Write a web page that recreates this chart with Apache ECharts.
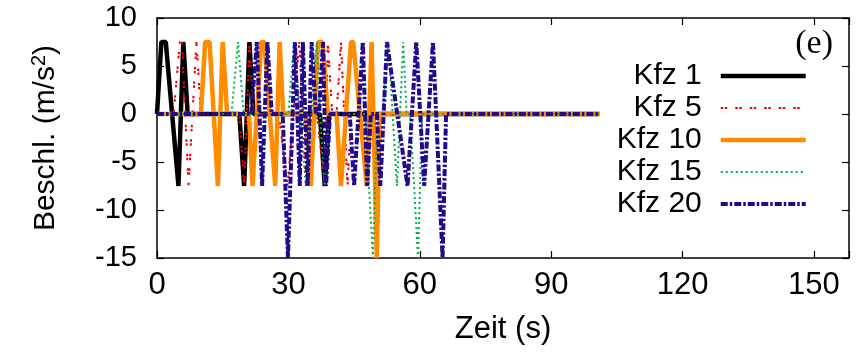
<!DOCTYPE html>
<html>
<head>
<meta charset="utf-8">
<script src="https://cdn.jsdelivr.net/npm/echarts@6/dist/echarts.min.js"></script>
<style>html,body{margin:0;padding:0;background:#fff}#c{width:863px;height:356px}</style>
</head>
<body>
<div id="c"></div>
<script>
// ---- data (time in s, acceleration in m/s^2) ----
const seriesNames = ['Kfz 1', 'Kfz 5', 'Kfz 10', 'Kfz 15', 'Kfz 20'];
const xTicks = [0, 30, 60, 90, 120, 150];
const yTicks = [-15, -10, -5, 0, 5, 10];

const kfz1T = [0, 1, 2, 4.9, 6, 7, 18.8, 19.9, 21.1, 22, 37.2, 38.3, 39.3, 101];
const kfz1A = [0, 7.5, 7.5, -7.5, 7.5, 0, 0, -7.5, 7.5, 0, 0, -7.5, 0, 0];

const kfz5T = [0, 3.8, 5.2, 5.7, 7.2, 9, 10, 18.8, 19.9, 21.1, 22, 27.8, 29.8, 32.5, 34, 35, 36.5, 38.3, 39, 40, 41, 42, 43.5, 44.3, 101];
const kfz5A = [0, 0, 7.5, 7.5, -7.5, 7.5, 0, 0, -7.5, 7.5, 0, 0, -7.5, 7.5, -7.5, 0, 0, -7.5, 7.5, 0, 0, 7.5, -7.5, 0, 0];

const kfz10T = [0, 10, 11, 12, 13.9, 15, 16, 21, 21.8, 23.8, 24.5, 27, 28, 28.8, 34, 35.1, 36.8, 37.8, 39, 41, 42, 44.3, 44.8, 47.9, 49, 50.2, 50.8, 101];
const kfz10A = [0, 0, 7.5, 7.5, -7.5, 7.5, 0, 0, -7.5, 7.5, 7.5, -7.5, 7.5, 0, 0, -7.5, 7.5, 7.5, 0, 0, -7.5, 7.5, 7.5, -7.5, 7.5, -15, 0, 0];

const kfz15T = [0, 17, 18.5, 19.8, 30, 31.3, 34, 36.5, 37.2, 38.3, 39.3, 47.5, 49.3, 50.3, 51.5, 52.8, 54.8, 56.2, 57, 57.8, 59.6, 60.5, 101];
const kfz15A = [0, 0, 7.5, 0, 0, 7.5, -7.5, 7.5, 0, -7.5, 0, 0, -15, 0, 0, 7.5, -7.5, 7.5, 0, 0, -15, 0, 0];

const kfz20T = [0, 21.5, 22.8, 24, 25.2, 26.2, 28.7, 29.9, 31.5, 32.6, 33.3, 34.4, 35.3, 36.3, 37, 37.9, 38.6, 39.5, 44, 45, 47, 48, 48.8, 50.2, 51, 52.5, 57.2, 59.2, 61, 63, 65.2, 66, 101];
const kfz20A = [0, 0, 7.5, -7.5, 7.5, 0, 0, -15, 7.5, -7.5, 7.5, -7.5, 7.5, 0, 0, 7.5, -7.5, 0, 0, -7.5, 7.5, -7.5, 0, 0, -7.5, 7.5, -7.5, 7.5, -7.5, 7.5, -15, 0, 0];

const zip = (t, a) => t.map((v, i) => [v, a[i]]);
const seriesData = [zip(kfz1T, kfz1A), zip(kfz5T, kfz5A), zip(kfz10T, kfz10A), zip(kfz15T, kfz15A), zip(kfz20T, kfz20A)];

const styles = [
  { color: '#000000', width: 4.5, type: 'solid' },
  { color: '#e8000b', width: 2, type: [2.5, 1.5, 2.5, 8] },
  { color: '#ff8c00', width: 4.5, type: 'solid' },
  { color: '#00b050', width: 2, type: [2, 3] },
  { color: '#220a90', width: 4, type: [7, 2, 2.5, 2] }
];

const font = 'Liberation Sans';
const axisLine = { show: true, onZero: false, lineStyle: { color: '#000', width: 1.5 } };
const tick = { show: true, inside: true, length: 7, lineStyle: { color: '#000', width: 1.2 } };

const chart = echarts.init(document.getElementById('c'), null, { renderer: 'canvas' });
chart.setOption({
  animation: false,
  backgroundColor: '#fff',
  grid: { left: 157, right: 14, top: 18, bottom: 98 },
  xAxis: [
    {
      type: 'value', min: 0, max: 158, interval: 30, position: 'bottom',
      axisLine, axisTick: tick, splitLine: { show: false },
      axisLabel: { margin: 12, fontSize: 31, fontFamily: font, color: '#000',
        formatter: v => xTicks.includes(v) ? String(v) : '' },
      name: 'Zeit (s)', nameLocation: 'middle', nameGap: 56,
      nameTextStyle: { fontSize: 31, fontFamily: font, color: '#000' }
    },
    {
      type: 'value', min: 0, max: 158, interval: 30, position: 'top',
      axisLine, axisTick: tick, splitLine: { show: false }, axisLabel: { show: false }
    }
  ],
  yAxis: [
    {
      type: 'value', min: -15, max: 10, interval: 5, position: 'left',
      axisLine, axisTick: tick, splitLine: { show: false },
      axisLabel: { margin: 20, fontSize: 29, fontFamily: font, color: '#000',
        formatter: v => yTicks.includes(v) ? String(v) : '' },
      name: 'Beschl. (m/s{sup|2})', nameLocation: 'middle', nameGap: 94,
      nameTextStyle: { fontSize: 30, fontFamily: font, color: '#000',
        rich: { sup: { fontSize: 20, fontFamily: font, color: '#000', verticalAlign: 'top', padding: [0, 0, 14, 0] } } }
    },
    {
      type: 'value', min: -15, max: 10, interval: 5, position: 'right',
      axisLine, axisTick: tick, splitLine: { show: false }, axisLabel: { show: false }
    }
  ],
  legend: {
    orient: 'vertical', right: 50, top: 56, align: 'right',
    itemWidth: 85, itemHeight: 14, itemGap: 2,
    itemStyle: { opacity: 0 },
    textStyle: { fontSize: 30, fontFamily: font, color: '#000', lineHeight: 30, padding: [0, 14, 0, 0] },
    data: seriesNames.map((n, i) => ({
      name: n,
      lineStyle: { width: styles[i].width, type: styles[i].type, color: styles[i].color }
    }))
  },
  graphic: [
    { type: 'text', right: 30, top: 27, style: { text: '(e)', font: '34px "Liberation Serif"', fill: '#000' } }
  ],
  series: seriesNames.map((n, i) => ({
    name: n, type: 'line', xAxisIndex: 0, yAxisIndex: 0,
    data: seriesData[i], showSymbol: false, symbol: 'none',
    lineStyle: { color: styles[i].color, width: styles[i].width, type: styles[i].type },
    itemStyle: { color: styles[i].color },
    emphasis: { disabled: true }
  }))
});
</script>
</body>
</html>
